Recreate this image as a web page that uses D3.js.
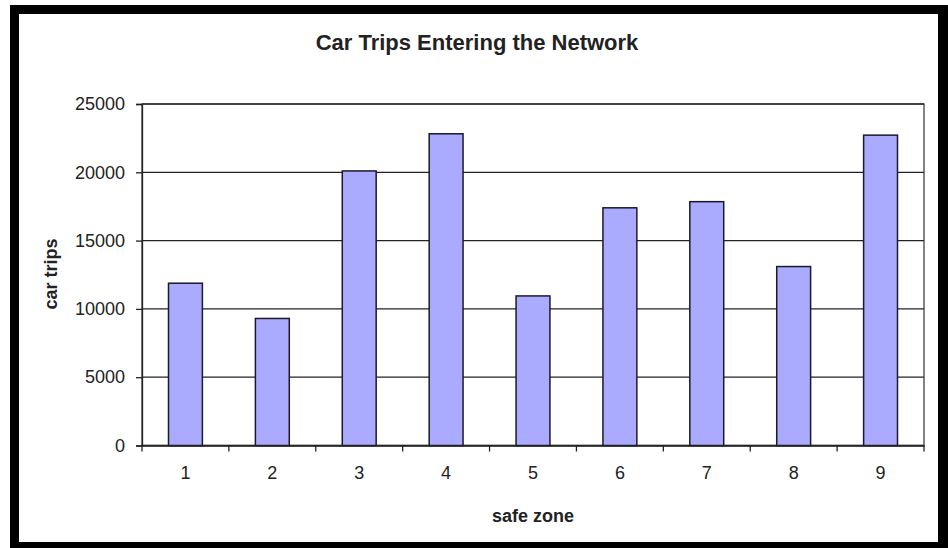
<!DOCTYPE html>
<html lang="en">
<head>
<meta charset="utf-8" />
<title>Car Trips Entering the Network</title>
<script src="https://cdn.jsdelivr.net/npm/d3@7"></script>
<style>
  body { margin: 0; background: #fff; }
  svg { display: block; }
  text { font-family: "Liberation Sans", Arial, sans-serif; fill: #222; }
  .bar { fill: #aaaaff; stroke: #1a1a2a; stroke-width: 1.5px; }
  .grid line { stroke: #222; stroke-width: 1.3px; }
</style>
</head>
<body>
<script>
// chart data
var zones = ["1", "2", "3", "4", "5", "6", "7", "8", "9"];
var trips = [11880, 9300, 20100, 22820, 10950, 17400, 17850, 13100, 22720];
var yTicks = [0, 5000, 10000, 15000, 20000, 25000];

var W = 948, H = 548;
// plot area (named so they don't clash with window.top)
var plotL = 142, plotR = 924, plotT = 104, plotB = 445.5;

var svg = d3.select("body").append("svg")
    .attr("width", W)
    .attr("height", H);

// black frame round the whole picture
svg.append("rect")
    .attr("x", 10).attr("y", 5)
    .attr("width", W - 10).attr("height", H - 5)
    .attr("fill", "#000");
svg.append("rect")
    .attr("x", 19).attr("y", 14)
    .attr("width", 919).attr("height", 528)
    .attr("fill", "#fff");

// scales
var x = d3.scaleBand().domain(zones).range([plotL, plotR]).padding(0);
var y = d3.scaleLinear().domain([0, 25000]).range([plotB, plotT]);

// gridlines
svg.append("g")
    .attr("class", "grid")
    .selectAll("line")
    .data(yTicks)
    .enter().append("line")
    .attr("x1", plotL).attr("x2", plotR)
    .attr("y1", function(d) { return y(d); })
    .attr("y2", function(d) { return y(d); });

// plot border
svg.append("rect")
    .attr("x", plotL).attr("y", plotT)
    .attr("width", plotR - plotL).attr("height", plotB - plotT)
    .attr("fill", "none")
    .attr("stroke", "#333")
    .attr("stroke-width", 1.2);

// bars
var barW = x.bandwidth() * 0.39;
svg.selectAll(".bar")
    .data(trips)
    .enter().append("rect")
    .attr("class", "bar")
    .attr("x", function(d, i) { return x(zones[i]) + (x.bandwidth() - barW) / 2; })
    .attr("y", function(d) { return y(d); })
    .attr("width", barW)
    .attr("height", function(d) { return plotB - y(d); });

// y axis
var yAxis = svg.append("g")
    .attr("transform", "translate(" + plotL + ",0)")
    .call(d3.axisLeft(y).tickValues(yTicks).tickFormat(d3.format("d")).tickSize(6).tickPadding(11));
yAxis.select(".domain").attr("stroke", "#222").attr("stroke-width", 1.3);
yAxis.selectAll(".tick line").attr("stroke", "#222").attr("stroke-width", 1.3);
yAxis.selectAll("text")
    .style("font-size", "18px")
    .attr("fill", "#2a2a3a");

// x axis: ticks sit between the categories
var xAxis = svg.append("g")
    .attr("transform", "translate(0," + plotB + ")")
    .call(d3.axisBottom(x).tickSize(0).tickPadding(21));
xAxis.select(".domain").attr("stroke", "#222").attr("stroke-width", 1.3);
xAxis.selectAll("text")
    .style("font-size", "18px")
    .attr("fill", "#2a2a3a");
xAxis.selectAll(".sep")
    .data(d3.range(zones.length + 1))
    .enter().append("line")
    .attr("class", "sep")
    .attr("x1", function(i) { return plotL + i * x.step(); })
    .attr("x2", function(i) { return plotL + i * x.step(); })
    .attr("y1", 0).attr("y2", 6)
    .attr("stroke", "#222")
    .attr("stroke-width", 1.3);

// title and axis titles
svg.append("text")
    .attr("x", 477).attr("y", 50)
    .attr("text-anchor", "middle")
    .style("font-size", "22px")
    .style("font-weight", "bold")
    .text("Car Trips Entering the Network");

svg.append("text")
    .attr("x", (plotL + plotR) / 2).attr("y", 522)
    .attr("text-anchor", "middle")
    .style("font-size", "18px")
    .style("font-weight", "bold")
    .text("safe zone");

svg.append("text")
    .attr("transform", "translate(57,274) rotate(-90)")
    .attr("text-anchor", "middle")
    .style("font-size", "18px")
    .style("font-weight", "bold")
    .text("car trips");
</script>
</body>
</html>
